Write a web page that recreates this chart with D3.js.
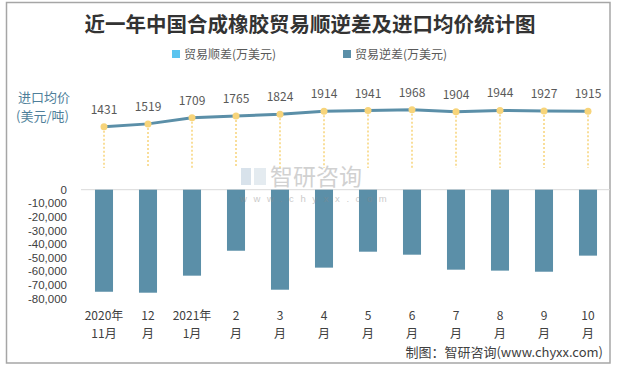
<!DOCTYPE html>
<html><head><meta charset="utf-8">
<script src="https://cdn.jsdelivr.net/npm/d3@7/dist/d3.min.js"></script>
<style>
body{margin:0;background:#fff;}
text{font-family:"Noto Sans CJK SC","Noto Sans",sans-serif;}
</style></head>
<body>
<svg id="c" width="617" height="369"></svg>
<script>
const categoriesTop = ["2020年","12","2021年","2","3","4","5","6","7","8","9","10"];
const categoriesBottom = ["11月","月","1月","月","月","月","月","月","月","月","月","月"];
const surplus = [0,0,0,0,0,0,0,0,0,0,0,0];
const deficit = [-74900,-75600,-63100,-44800,-73400,-57200,-45500,-47700,-58700,-59400,-60200,-48400];
const price = [1431,1519,1709,1765,1824,1914,1941,1968,1904,1944,1927,1915];
const yTicks = [0,-10000,-20000,-30000,-40000,-50000,-60000,-70000,-80000];

const svg = d3.select("#c");
svg.append("rect").attr("x",6.5).attr("y",2.5).attr("width",603.5).attr("height",360.5)
  .attr("fill","#fff").attr("stroke","#a6a6a6").attr("stroke-width",1.5);

svg.append("text").attr("x",310).attr("y",32).attr("text-anchor","middle")
  .attr("font-size",20.5).attr("font-weight","bold").attr("fill","#333").text("近一年中国合成橡胶贸易顺逆差及进口均价统计图");

// legend
const leg = [{t:"贸易顺差(万美元)",c:"#5bc4ef",x:172},{t:"贸易逆差(万美元)",c:"#5b8fa8",x:343}];
leg.forEach(l=>{
  svg.append("rect").attr("x",l.x).attr("y",50).attr("width",8).attr("height",8).attr("fill",l.c);
  svg.append("text").attr("x",l.x+12).attr("y",58.5).attr("font-size",12).attr("fill","#595959").text(l.t);
});

const x = d3.scaleBand().domain(d3.range(12)).range([82,610]).paddingInner(0.59).paddingOuter(0.295);
const y = d3.scaleLinear().domain([-80000,0]).range([298.7,189.7]);
const yp = d3.scaleLinear().domain([0,2500]).range([172,92.8]);

// y axis labels
svg.append("g").selectAll("text").data(yTicks).join("text")
  .attr("x",67).attr("y",d=>y(d)+4).attr("text-anchor","end").attr("font-size",11.5)
  .style("font-family","'Liberation Sans',Arial,sans-serif")
  .attr("fill","#404040").text(d=>d3.format(",")(d).replace("−","-"));

svg.append("line").attr("x1",81).attr("x2",610).attr("y1",y(0)).attr("y2",y(0))
  .attr("stroke","#d9d9d9").attr("stroke-width",1);

// bars
svg.append("g").selectAll("rect").data(deficit).join("rect")
  .attr("x",(d,i)=>x(i)).attr("width",x.bandwidth())
  .attr("y",y(0)).attr("height",d=>y(d)-y(0)).attr("fill","#5b8fa8");
svg.append("g").selectAll("rect").data(surplus).join("rect")
  .attr("x",(d,i)=>x(i)).attr("width",x.bandwidth())
  .attr("y",d=>y(d)).attr("height",d=>y(0)-y(d)).attr("fill","#5bc4ef");

// watermark
const wm = svg.append("g").attr("opacity",0.45);
wm.append("rect").attr("x",241).attr("y",168).attr("width",10).attr("height",17).attr("fill","#a9bfd3");
wm.append("rect").attr("x",254).attr("y",168).attr("width",12).attr("height",17).attr("fill","#c5d3df");
wm.append("text").attr("x",270).attr("y",185).attr("font-size",23).attr("fill","#9a9a9a").text("智研咨询");
wm.append("text").attr("x",240).attr("y",202).attr("font-size",9.5).attr("letter-spacing",6.6)
  .style("font-family","'Liberation Sans',Arial,sans-serif").attr("fill","#8a8a8a").text("www.chyxx.com");

// drop lines
const cx = i => x(i)+x.bandwidth()/2;
svg.append("g").selectAll("line").data(price).join("line")
  .attr("x1",(d,i)=>cx(i)).attr("x2",(d,i)=>cx(i)).attr("y1",d=>yp(d)).attr("y2",168)
  .attr("stroke","#f7d47a").attr("stroke-width",1.5).attr("stroke-dasharray","2,2");

// line
svg.append("path").datum(price)
  .attr("d",d3.line().x((d,i)=>cx(i)).y(d=>yp(d)))
  .attr("fill","none").attr("stroke","#5b8fa8").attr("stroke-width",3);
svg.append("g").selectAll("circle").data(price).join("circle")
  .attr("cx",(d,i)=>cx(i)).attr("cy",d=>yp(d)).attr("r",3.5).attr("fill","#f7d47a");
svg.append("g").selectAll("text").data(price).join("text")
  .attr("x",(d,i)=>cx(i)).attr("y",d=>yp(d)-13).attr("text-anchor","middle")
  .attr("font-size",12).attr("fill","#595959").text(d=>d);

// left label
svg.append("text").attr("x",18).attr("y",102).attr("font-size",13).attr("fill","#4f7f9a").text("进口均价");
svg.append("text").attr("x",16).attr("y",121).attr("font-size",13).attr("fill","#4f7f9a").text("(美元/吨)");

// x labels
svg.append("g").selectAll("text").data(categoriesTop).join("text")
  .attr("x",(d,i)=>cx(i)).attr("y",320).attr("text-anchor","middle").attr("font-size",12)
  .attr("fill","#404040").text(d=>d);
svg.append("g").selectAll("text").data(categoriesBottom).join("text")
  .attr("x",(d,i)=>cx(i)).attr("y",338).attr("text-anchor","middle").attr("font-size",12)
  .attr("fill","#404040").text(d=>d);

svg.append("text").attr("x",603).attr("y",357).attr("text-anchor","end").attr("font-size",13)
  .attr("fill","#404040").text("制图：智研咨询(www.chyxx.com)");
</script>
</body></html>
